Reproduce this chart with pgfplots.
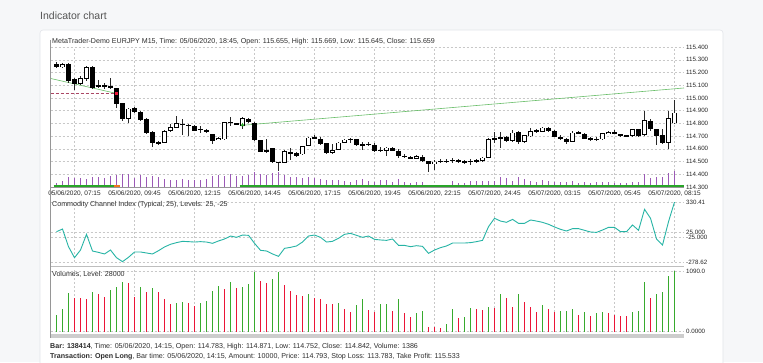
\documentclass[border=0pt]{standalone}
\usepackage{pgfplots}
\usepackage{pgfplotstable}
\pgfplotsset{compat=1.18}
\usepackage{fontspec}
\setmainfont{Liberation Sans}
\definecolor{bg}{RGB}{246,247,249}
\definecolor{cardborder}{RGB}{226,229,233}
\definecolor{titlec}{RGB}{85,85,85}
\definecolor{txt}{RGB}{45,45,45}
\definecolor{gridc}{RGB}{200,200,200}
\definecolor{tickc}{RGB}{40,40,40}
\definecolor{wick}{RGB}{40,40,40}
\definecolor{purplev}{RGB}{155,89,182}
\definecolor{baseg}{RGB}{40,165,40}
\definecolor{trend}{RGB}{105,190,105}
\definecolor{reddash}{RGB}{170,70,100}
\definecolor{ccic}{RGB}{38,180,165}
\definecolor{vgreen}{RGB}{55,170,45}
\definecolor{vred}{RGB}{235,20,55}
\definecolor{orangeb}{RGB}{240,120,30}
\definecolor{framec}{RGB}{150,150,150}
\definecolor{sepc}{RGB}{190,190,190}
\definecolor{scrollc}{RGB}{205,205,205}

\pgfplotstableread{
i o h l c v g cci
0 115.270 115.285 115.233 115.246 300 1 29
1 115.246 115.272 115.238 115.264 401 1 56
2 115.264 115.277 115.120 115.134 689 1 -123
3 115.147 115.160 115.060 115.113 599 0 -235
4 115.113 115.173 115.102 115.154 595 0 -157
5 115.147 115.250 115.134 115.243 590 0 2
6 115.243 115.250 115.068 115.081 719 1 -167
7 115.092 115.139 115.078 115.100 677 0 -181
8 115.100 115.120 115.070 115.095 629 0 -197
9 115.094 115.160 115.073 115.076 749 1 -157
10 115.076 115.080 114.924 114.955 809 1 -235
11 114.958 114.963 114.820 114.838 899 1 -275
12 114.838 114.924 114.806 114.916 881 0 -231
13 114.924 114.932 114.885 114.893 629 0 -177
14 114.890 114.898 114.820 114.827 809 1 -177
15 114.833 114.840 114.714 114.722 713 0 -187
16 114.733 114.740 114.615 114.650 779 1 -197
17 114.641 114.665 114.630 114.652 713 0 -164
18 114.649 114.746 114.644 114.741 581 0 -126
19 114.741 114.793 114.736 114.772 491 0 -99
20 114.767 114.856 114.762 114.801 521 1 -82
21 114.795 114.838 114.707 114.790 527 1 -69
22 114.788 114.795 114.703 114.785 522 0 -72
23 114.777 114.785 114.740 114.743 467 0 -76
24 114.759 114.780 114.728 114.746 509 1 -72
25 114.748 114.754 114.728 114.733 557 1 -76
26 114.714 114.720 114.636 114.662 737 1 -89
27 114.675 114.690 114.670 114.688 827 1 -65
28 114.675 114.815 114.672 114.811 767 0 -45
29 114.806 114.853 114.780 114.809 887 1 -15
30 114.803 114.806 114.785 114.788 779 0 -28
31 114.780 114.853 114.760 114.840 797 1 -5
32 114.838 114.840 114.806 114.811 863 1 -8
33 114.806 114.810 114.660 114.667 1066 1 -89
34 114.667 114.667 114.575 114.578 917 0 -160
35 114.586 114.675 114.570 114.584 869 0 -167
36 114.602 114.610 114.490 114.497 947 1 -197
37 114.497 114.500 114.426 114.495 1075 1 -221
38 114.492 114.590 114.490 114.584 845 0 -140
39 114.575 114.610 114.513 114.560 725 0 -130
40 114.565 114.575 114.540 114.544 665 0 -116
41 114.557 114.625 114.555 114.623 647 0 -76
42 114.623 114.690 114.620 114.688 671 1 -15
43 114.680 114.707 114.675 114.690 611 0 -5
44 114.680 114.690 114.630 114.636 581 0 -28
45 114.644 114.650 114.563 114.565 491 0 -76
46 114.570 114.640 114.563 114.591 488 0 -69
47 114.591 114.650 114.590 114.649 509 1 -38
48 114.649 114.680 114.645 114.675 413 0 2
49 114.675 114.685 114.650 114.677 359 0 12
50 114.675 114.680 114.625 114.628 485 1 -8
51 114.631 114.650 114.590 114.633 593 1 -28
52 114.636 114.650 114.620 114.638 389 0 -15
53 114.631 114.645 114.575 114.583 359 0 -49
54 114.590 114.612 114.575 114.590 491 1 -55
55 114.583 114.612 114.544 114.610 495 1 -59
56 114.610 114.612 114.580 114.583 371 0 -45
57 114.583 114.597 114.525 114.544 581 1 -110
58 114.545 114.557 114.525 114.542 329 0 -110
59 114.538 114.545 114.520 114.523 264 0 -123
60 114.523 114.548 114.520 114.544 329 1 -113
61 114.539 114.555 114.500 114.505 371 1 -120
62 114.502 114.505 114.418 114.479 90 0 -191
63 114.484 114.513 114.432 114.500 85 0 -157
64 114.503 114.518 114.486 114.505 60 0 -133
65 114.503 114.518 114.490 114.506 144 1 -116
66 114.510 114.528 114.492 114.513 401 1 -86
67 114.515 114.520 114.490 114.497 252 0 -86
68 114.500 114.515 114.482 114.501 258 1 -86
69 114.503 114.518 114.475 114.501 425 1 -82
70 114.505 114.520 114.490 114.510 401 0 -72
71 114.505 114.533 114.500 114.530 389 0 -59
72 114.530 114.685 114.525 114.675 437 1 80
73 114.680 114.735 114.650 114.683 425 0 165
74 114.685 114.730 114.610 114.688 683 1 137
75 114.695 114.700 114.655 114.662 599 0 124
76 114.662 114.745 114.655 114.727 443 0 154
77 114.732 114.740 114.640 114.654 677 1 114
78 114.654 114.712 114.650 114.707 533 0 114
79 114.700 114.767 114.695 114.740 443 0 148
80 114.740 114.760 114.722 114.742 359 0 137
81 114.733 114.770 114.730 114.767 479 1 124
82 114.767 114.770 114.735 114.740 413 0 104
83 114.740 114.745 114.690 114.696 353 0 77
84 114.696 114.706 114.670 114.675 371 1 53
85 114.680 114.685 114.640 114.654 374 1 36
86 114.657 114.740 114.655 114.727 401 1 60
87 114.732 114.740 114.715 114.720 293 0 60
88 114.720 114.725 114.675 114.680 353 1 43
89 114.680 114.692 114.665 114.680 281 0 26
90 114.677 114.690 114.660 114.675 329 1 22
91 114.675 114.727 114.670 114.722 359 1 46
92 114.720 114.740 114.715 114.732 341 0 73
93 114.733 114.750 114.715 114.720 299 0 73
94 114.714 114.720 114.695 114.700 287 0 29
95 114.707 114.712 114.690 114.696 281 0 29
96 114.700 114.760 114.695 114.753 347 1 97
97 114.753 114.760 114.695 114.700 377 1 43
98 114.707 114.898 114.700 114.825 887 1 256
99 114.819 114.832 114.742 114.754 605 0 165
100 114.754 114.760 114.628 114.700 683 1 -45
101 114.707 114.754 114.637 114.647 713 1 -106
102 114.649 114.898 114.602 114.840 1006 1 131
103 114.800 114.984 114.795 114.885 1090 1 330.41
}\ohlc

\pgfplotsset{
  pane/.style={
    scale only axis, width=633.5pt, anchor=south west,
    xmin=-1, xmax=104.58,
    axis line style={draw=none}, tick style={draw=none},
    xmajorgrids, ymajorgrids,
    major grid style={gridc, dash pattern=on 2pt off 2pt, line width=0.4pt},
    xtick={3,13,23,33,43,53,63,73,83,93,103},
    yticklabel pos=right,
    tick label style={text=tickc},
    yticklabel style={font=\fontsize{6.2}{7}\selectfont, anchor=west, inner sep=0pt, xshift=2pt},
    xticklabel style={font=\fontsize{6.5}{7}\selectfont, anchor=north, inner sep=0pt, yshift=-4pt},
    /pgf/number format/assume math mode=true,
  },
  bars/.style={draw=none, mark=none, forget plot, error bars/.cd, y dir=both, y explicit, error mark=none},
}

\begin{document}
\begin{tikzpicture}
\fill[bg] (0pt,0pt) rectangle (763pt,362pt);
\fill[white, rounded corners=3pt] (40pt,-10pt) rectangle (723pt,332pt);
\draw[cardborder, line width=0.6pt, rounded corners=3pt] (40pt,-10pt) -- (40pt,332pt) -- (723pt,332pt) -- (723pt,-10pt);
\node[anchor=west, inner sep=0pt, text=titlec, font=\fontsize{10.5}{12}\selectfont] at (40pt,346pt) {Indicator chart};

% ---------- price pane ----------
\begin{axis}[pane, at={(50.5pt,175pt)}, height=140pt,
  ymin=114.3, ymax=115.4,
  ytick={114.3,114.4,114.5,114.6,114.7,114.8,114.9,115.0,115.1,115.2,115.3,115.4},
  yticklabels={114.300,114.400,114.500,114.600,114.700,114.800,114.900,115.000,115.100,115.200,115.300,115.400},
  xticklabels={{05/06/2020, 07:15},{05/06/2020, 09:45},{05/06/2020, 12:15},{05/06/2020, 14:45},{05/06/2020, 17:15},{05/06/2020, 19:45},{05/06/2020, 22:15},{05/07/2020, 24:45},{05/07/2020, 03:15},{05/07/2020, 05:45},{05/07/2020, 08:15}},
]
% volume spikes
\addplot[bars, error bar style={line width=0.8pt, draw=purplev}]
  table[x=i, y expr={114.3+\thisrow{v}*0.0000562}, y error expr={\thisrow{v}*0.0000562}] {\ohlc};
% position baseline
\addplot[baseg, line width=1.6pt] coordinates {(-0.5,114.306) (9.5,114.306)};
\addplot[orangeb, line width=1.6pt] coordinates {(9.5,114.306) (10.5,114.306)};
\addplot[baseg, line width=1.6pt] coordinates {(30.5,114.306) (104.58,114.306)};
% trend lines and level
\addplot[trend, line width=0.6pt] coordinates {(-1,115.153) (10,115.035)};
\addplot[trend, line width=0.6pt] coordinates {(31,114.785) (104.58,115.078)};
\addplot[reddash, line width=0.7pt, dash pattern=on 3pt off 2pt] coordinates {(-1,115.034) (9.6,115.034)};
% wicks
\addplot[bars, error bar style={line width=0.8pt, draw=wick}]
  table[x=i, y expr={(\thisrow{h}+\thisrow{l})/2}, y error expr={(\thisrow{h}-\thisrow{l})/2}] {\ohlc};
% bodies
\addplot[bars, error bar style={line width=4.4pt, draw=black}]
  table[x=i, y expr={(\thisrow{o}+\thisrow{c})/2}, y error expr={max(abs(\thisrow{o}-\thisrow{c})/2,0.004)}] {\ohlc};
\addplot[restrict expr to domain={\thisrow{c}-\thisrow{o}}{0.012:1}, bars, error bar style={line width=3.0pt, draw=white}]
  table[x=i, y expr={(\thisrow{o}+\thisrow{c})/2}, y error expr={(\thisrow{c}-\thisrow{o})/2-0.0055}] {\ohlc};
% trade markers
\addplot[only marks, mark=square*, mark size=1.1pt, color=vred] coordinates {(10,115.037)};
\addplot[only marks, mark=triangle*, mark size=1.7pt, color=baseg] coordinates {(31,114.787)};
\end{axis}

% ---------- CCI pane ----------
\begin{axis}[pane, at={(50.5pt,100pt)}, height=60pt,
  ymin=-278.62, ymax=330.41,
  ytick={-278.62,-25,25,330.41},
  yticklabels={-278.62,-25.000,25.000,330.41},
  xticklabels={},
]
\addplot[ccic, line width=0.9pt] table[x=i, y=cci] {\ohlc};
\end{axis}

% ---------- Volume pane ----------
\begin{axis}[pane, at={(50.5pt,30.5pt)}, height=63.5pt,
  ymin=0, ymax=1144,
  ytick={0,1090},
  yticklabels={0.0000,1090.0},
  xticklabels={},
]
\addplot[ycomb, vgreen, line width=1.8pt, restrict expr to domain={\thisrow{g}}{0.5:1.5}] table[x=i, y=v] {\ohlc};
\addplot[ycomb, vred, line width=1.8pt, restrict expr to domain={\thisrow{g}}{-0.5:0.5}] table[x=i, y=v] {\ohlc};
\end{axis}

% frame lines
\draw[framec, line width=0.6pt] (50.5pt,322pt) -- (50.5pt,24pt);
\draw[framec, line width=0.7pt] (50.5pt,175pt) -- (684pt,175pt);
\draw[sepc, line width=0.8pt] (50.5pt,95.5pt) -- (684pt,95.5pt);
\fill[scrollc] (50.5pt,24pt) rectangle (684pt,28pt);

% texts
\node[anchor=west, inner sep=0pt, text=txt, font=\fontsize{7.1}{8}\selectfont] at (52pt,320.5pt)
  {MetaTrader-Demo EURJPY M15, Time: 05/06/2020, 18:45, Open: 115.655, High: 115.669, Low: 115.645, Close: 115.659};
\node[anchor=west, inner sep=0pt, text=txt, font=\fontsize{7.1}{8}\selectfont] at (52pt,157.7pt)
  {Commodity Channel Index (Typical, 25), Levels: 25, -25};
\node[anchor=west, inner sep=0pt, text=txt, font=\fontsize{7.1}{8}\selectfont] at (52pt,87.7pt)
  {Volumes, Level: 28000};
\node[anchor=west, inner sep=0pt, text=txt, font=\fontsize{7.1}{8}\selectfont] at (50pt,15.3pt)
  {\textbf{Bar: 138414}, Time: 05/06/2020, 14:15, Open: 114.783, High: 114.871, Low: 114.752, Close: 114.842, Volume: 1386};
\node[anchor=west, inner sep=0pt, text=txt, font=\fontsize{7.1}{8}\selectfont] at (50pt,5.3pt)
  {\textbf{Transaction: Open Long}, Bar time: 05/06/2020, 14:15, Amount: 10000, Price: 114.793, Stop Loss: 113.783, Take Profit: 115.533};

\pgfresetboundingbox
\path[use as bounding box] (0pt,0pt) rectangle (763pt,362pt);
\end{tikzpicture}
\end{document}
